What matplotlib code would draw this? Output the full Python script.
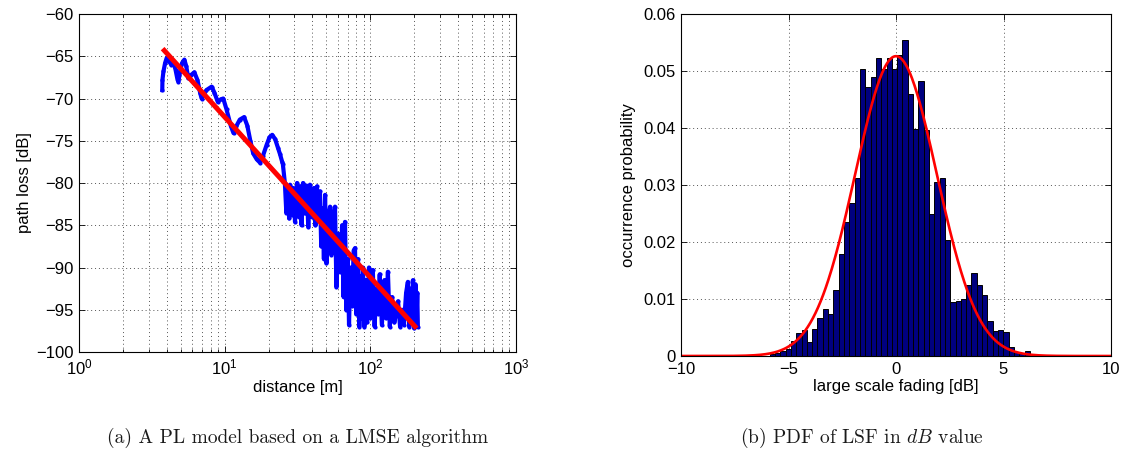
import matplotlib as mpl
mpl.use('Agg')  # headless mode
import matplotlib.pyplot as plt
from matplotlib.ticker import LogLocator, NullFormatter
import numpy as np

dist_m = [3.73, 3.74, 3.8, 3.9, 4.0, 4.15, 4.3, 4.45, 4.6, 4.75, 4.81, 4.95, 5.1, 5.29, 5.45,
          5.63, 5.9, 6.19, 6.5, 6.8, 6.95, 7.5, 8.14, 8.5, 8.97, 9.4, 9.78, 10.3, 11.0, 11.5,
          12.0, 12.7, 13.6, 14.3, 15.0, 15.7, 16.6, 17.5, 18.3, 19.4, 20.3, 21.2, 22.2, 23.2,
          24.0, 24.8,
          25.1, 25.9, 26.5, 27.2, 27.7, 28.1, 28.8, 29.6, 30.4, 31.4, 32.2, 32.9, 33.7, 34.5,
          35.5, 36.5, 37.5, 38.5, 39.7, 41.0, 42.0, 43.0, 44.0, 45.1, 46.0, 47.0, 48.0, 48.9,
          50.0, 51.5, 52.9, 54.0, 55.5, 57.2, 58.5, 60.0, 62.0, 64.0, 65.5, 67.0, 68.5, 70.0,
          71.4, 73.0, 75.0, 76.8, 78.5, 80.0, 82.3, 84.0, 86.0, 87.5, 89.0, 91.0, 93.0, 94.9,
          97.9, 100, 104, 107, 110, 113, 116, 120, 125, 128, 132, 136, 141, 146, 150, 155,
          160, 165, 170, 176, 181, 185, 189, 193, 196, 200, 204, 207, 210, 212]
path_loss_db = [-69.0, -67.8, -66.8, -65.8, -65.2, -65.6, -66.0, -65.7, -66.6, -67.8, -68.0,
                -66.8, -65.8, -65.4, -66.2, -67.6, -67.2, -66.9, -67.8, -69.4, -70.0, -69.0,
                -68.6, -69.3, -70.4, -70.1, -70.0, -71.3, -73.2, -74.1, -73.3, -72.5, -72.2,
                -73.2, -75.0, -76.5, -77.2, -77.6, -76.8, -75.5, -74.6, -74.3, -74.8, -75.8,
                -76.6, -77.5,
                -77.8, -80.0, -83.5, -81.0, -84.2, -80.2, -83.8, -80.6, -84.6, -80.0, -84.0,
                -80.4, -85.0, -80.0, -83.6, -80.3, -85.2, -80.2, -84.0, -80.6, -85.0, -80.4,
                -84.4, -81.0, -87.5, -83.0, -89.0, -81.4, -89.5, -84.0, -82.8, -88.5, -84.0,
                -82.8, -92.3, -86.0, -90.5, -85.0, -93.5, -84.6, -95.0, -89.0, -96.8, -90.0,
                -94.5, -88.0, -87.7, -95.5, -89.0, -97.0, -91.0, -96.0, -90.0, -97.0, -91.5,
                -96.5, -90.0, -96.0, -90.3, -97.0, -92.5, -95.5, -90.8, -96.8, -91.5, -96.0,
                -90.5, -97.0, -93.5, -96.5, -95.5, -94.0, -97.0, -95.0, -96.8, -93.0, -91.7,
                -97.0, -92.5, -96.5, -91.5, -97.2, -92.0, -96.8, -93.0, -97.0]

# LMSE path loss model, end points of the fitted line
fit_dist_m = [3.75, 208]
fit_pl_db = [-64.1, -97.2]

# ---- (b) histogram of large scale fading ----
lsf_first_edge = -5.875   # dB
lsf_bin_width = 0.247     # dB
lsf_prob = [0.0003, 0.0006, 0.0009, 0.0013, 0.0026, 0.0040, 0.0045, 0.0024, 0.0047, 0.0066,
            0.0083, 0.0073, 0.0115, 0.0179, 0.0235, 0.0269, 0.0313, 0.0503, 0.0472, 0.0489,
            0.0523, 0.0503, 0.0523, 0.0504, 0.0528, 0.0554, 0.0459, 0.0398, 0.0482, 0.0397,
            0.0250, 0.0306, 0.0312, 0.0203, 0.0095, 0.0096, 0.0100, 0.0124, 0.0146, 0.0124,
            0.0107, 0.0062, 0.0043, 0.0045, 0.0042, 0.0015, 0.0007, 0.0006, 0.0009, 0.0002]

# normal fit (scaled to bin probability)
fit_mu = 0.0
fit_sigma = 1.9
fit_peak = 0.0526

plt.rcParams['font.family'] = ['Liberation Sans', 'DejaVu Sans']
plt.rcParams['mathtext.fontset'] = 'custom'
plt.rcParams['mathtext.rm'] = 'Liberation Sans'
plt.rcParams['mathtext.it'] = 'Liberation Sans:italic'
plt.rcParams['font.size'] = 12

fig = plt.figure(figsize=(11.29, 4.59), dpi=100)
ax1 = fig.add_axes([79 / 1129, 107 / 459, 437 / 1129, 338 / 459])
ax2 = fig.add_axes([681 / 1129, 103 / 459, 430 / 1129, 342 / 459])

grid_kw = dict(color='#555555', linestyle=(0, (1, 3)), linewidth=0.7)

# left panel
ax1.plot(dist_m, path_loss_db, color='blue', linewidth=3.0, marker='.', markersize=4)
ax1.plot(fit_dist_m, fit_pl_db, color='red', linewidth=3.6, solid_capstyle='butt')
ax1.set_xscale('log')
ax1.set_xlim(1, 1000)
ax1.set_ylim(-100, -60)
ax1.set_yticks(np.arange(-100, -59, 5))
ax1.xaxis.set_major_locator(LogLocator(base=10, numticks=10))
ax1.xaxis.set_minor_locator(LogLocator(base=10, subs=np.arange(2, 10), numticks=10))
ax1.xaxis.set_minor_formatter(NullFormatter())
ax1.grid(True, which='both', **grid_kw)
ax1.set_xlabel('distance [m]', labelpad=2)
ax1.set_ylabel('path loss [dB]', labelpad=3)

# right panel
centers = lsf_first_edge + lsf_bin_width * (np.arange(len(lsf_prob)) + 0.5)
ax2.bar(centers, lsf_prob, width=lsf_bin_width, color='#00007f', edgecolor='black',
        linewidth=0.7)
xs = np.linspace(-10, 10, 500)
ax2.plot(xs, fit_peak * np.exp(-(xs - fit_mu) ** 2 / (2 * fit_sigma ** 2)),
         color='red', linewidth=1.9)
ax2.set_xlim(-10, 10)
ax2.set_ylim(0, 0.06)
ax2.set_xticks([-10, -5, 0, 5, 10])
ax2.set_yticks([0, 0.01, 0.02, 0.03, 0.04, 0.05, 0.06])
ax2.set_yticklabels(['0', '0.01', '0.02', '0.03', '0.04', '0.05', '0.06'])
ax2.grid(True, **grid_kw)
ax2.set_axisbelow(True)
ax2.set_xlabel('large scale fading [dB]', labelpad=2)
ax2.set_ylabel('occurrence probability', labelpad=5)

for ax in (ax1, ax2):
    ax.tick_params(which='both', direction='in', top=True, right=True, length=4,
                   width=0.6, pad=4)
    ax.tick_params(which='minor', length=2)
    for s in ax.spines.values():
        s.set_linewidth(0.8)

# captions
cap_kw = dict(family='cmr10', fontsize=14, ha='center', va='baseline', color='#1a1a1a')
fig.text(298 / 1129, 1 - 443 / 459, '(a) A PL model based on a LMSE algorithm', **cap_kw)
fig.text(862 / 1129, 1 - 443 / 459, '(b) PDF of LSF in $dB$ value', math_fontfamily='cm',
         **cap_kw)

fig.savefig('out.png', dpi=100)
